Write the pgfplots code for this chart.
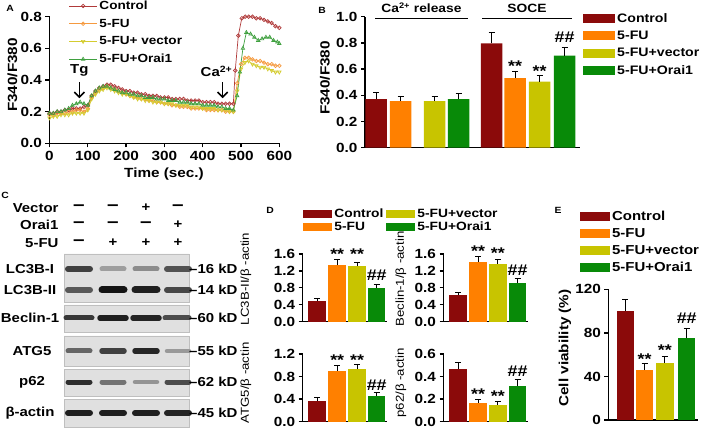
\documentclass[border=0pt]{standalone}
\usepackage{fontspec}
\setmainfont{Liberation Sans}[FakeStretch=1.15]
\usepackage{pgfplots}
\pgfplotsset{compat=1.18}
\usetikzlibrary{arrows.meta}

\definecolor{cCtl}{HTML}{8B0A0A}
\definecolor{cFU}{HTML}{FF8000}
\definecolor{cVec}{HTML}{C8C400}
\definecolor{cOr}{HTML}{088A08}
\definecolor{lCtl}{HTML}{B03A3A}
\definecolor{lFU}{HTML}{F59A40}
\definecolor{lVec}{HTML}{D4CC30}
\definecolor{lOr}{HTML}{3FA03F}

\newcommand{\fs}[1]{\fontsize{#1}{#1}\selectfont}
\newcommand{\mi}{{\fs{18}–}}
\tikzset{sig/.style={font=\fs{15.5}\bfseries, anchor=base, inner sep=0pt}}

\pgfplotsset{
  gp/.style={scale only axis, anchor=south west, axis lines=left,
    axis line style={-, line width=1.3pt},
    every outer x axis line/.append style={-}, every outer y axis line/.append style={-},
    every inner x axis line/.append style={-}, every inner y axis line/.append style={-},
    tick style={black, line width=1.3pt}, tick align=outside, major tick length=4pt,
    ticklabel style={font=\fs{13.3}\bfseries},
    /pgf/number format/assume math mode=true, clip=false, enlargelimits=false, xtick=\empty},
  dec1/.style={yticklabel style={/pgf/number format/fixed, /pgf/number format/fixed zerofill, /pgf/number format/precision=1}},
  bars/.style={ybar, bar width=#1, bar shift=0pt, draw=none,
    error bars/y dir=plus, error bars/y explicit,
    error bars/error bar style={draw=black, solid, line width=1pt},
    error bars/error mark options={rotate=90, draw=black, line width=1pt, mark size=3pt}},
  rectleg/.style 2 args={legend image code/.code={\fill[##1] (0pt,-#2) rectangle (#1,#2);}},
}

\begin{document}
\begin{tikzpicture}
\useasboundingbox (0pt,0pt) rectangle (709pt,431pt);

% ---------------- Panel A ----------------
\begin{axis}[gp, dec1, at={(49.5pt,287.7pt)}, width=229.8pt, height=126.6pt,
  xmin=0, xmax=600, ymin=0, ymax=0.8,
  xtick={0,100,...,600}, ytick={0,0.2,0.4,0.6,0.8},
  legend image code/.code={\draw[mark repeat=2, mark phase=2, #1] plot coordinates {(0pt,0pt) (14pt,0pt) (28pt,0pt)};},
  legend style={at={(0.083,1.142)}, anchor=north west, draw=none, fill=none,
    font=\fs{11.8}\bfseries, inner sep=0pt, row sep=4pt,
    nodes={font=\fs{11.8}\bfseries, inner sep=2pt}},
  legend cell align=left]
\addplot[lCtl, line width=0.7pt, mark=o, mark size=1.8pt] coordinates {
(0,0.19)(10,0.19)(20,0.20)(30,0.20)(40,0.21)(50,0.21)(60,0.22)(70,0.22)(80,0.22)(90,0.23)(100,0.24)(110,0.30)(120,0.33)(130,0.35)(140,0.36)(150,0.37)(160,0.37)(170,0.36)(180,0.35)(190,0.34)(200,0.33)(210,0.33)(220,0.32)(230,0.32)(240,0.31)(250,0.31)(260,0.30)(270,0.30)(280,0.30)(290,0.29)(300,0.29)(310,0.29)(320,0.28)(330,0.28)(340,0.28)(350,0.28)(360,0.27)(370,0.27)(380,0.27)(390,0.27)(400,0.26)(410,0.26)(420,0.26)(430,0.26)(440,0.25)(450,0.25)(460,0.25)(470,0.25)(480,0.25)(485,0.46)(493,0.68)(502,0.79)(511,0.80)(520,0.80)(530,0.80)(540,0.79)(550,0.79)(560,0.78)(570,0.77)(580,0.76)(590,0.74)(600,0.73)};
\addplot[lFU, line width=0.7pt, mark=o, mark size=1.8pt] coordinates {
(0,0.18)(10,0.18)(20,0.19)(30,0.19)(40,0.19)(50,0.20)(60,0.20)(70,0.21)(80,0.21)(90,0.20)(100,0.22)(110,0.29)(120,0.32)(130,0.34)(140,0.35)(150,0.36)(160,0.35)(170,0.34)(180,0.33)(190,0.32)(200,0.31)(210,0.30)(220,0.29)(230,0.29)(240,0.28)(250,0.28)(260,0.27)(270,0.27)(280,0.26)(290,0.26)(300,0.25)(310,0.25)(320,0.24)(330,0.24)(340,0.23)(350,0.23)(360,0.23)(370,0.22)(380,0.22)(390,0.22)(400,0.22)(410,0.21)(420,0.21)(430,0.21)(440,0.21)(450,0.21)(460,0.20)(470,0.20)(480,0.20)(490,0.38)(500,0.50)(510,0.54)(520,0.54)(530,0.53)(540,0.52)(550,0.52)(560,0.51)(570,0.50)(580,0.50)(590,0.49)(600,0.49)};
\addplot[lVec, line width=0.7pt, mark=triangle, mark size=2pt, mark options={rotate=180}] coordinates {
(0,0.16)(10,0.17)(20,0.17)(30,0.18)(40,0.18)(50,0.18)(60,0.19)(70,0.19)(80,0.19)(90,0.19)(100,0.21)(110,0.28)(120,0.31)(130,0.33)(140,0.34)(150,0.35)(160,0.34)(170,0.33)(180,0.32)(190,0.31)(200,0.31)(210,0.30)(220,0.29)(230,0.28)(240,0.28)(250,0.27)(260,0.27)(270,0.26)(280,0.26)(290,0.26)(300,0.25)(310,0.25)(320,0.25)(330,0.24)(340,0.24)(350,0.24)(360,0.24)(370,0.23)(380,0.23)(390,0.23)(400,0.22)(410,0.22)(420,0.22)(430,0.22)(440,0.21)(450,0.21)(460,0.21)(470,0.20)(480,0.20)(490,0.33)(500,0.47)(510,0.51)(520,0.52)(530,0.50)(540,0.49)(550,0.48)(560,0.48)(570,0.47)(580,0.46)(590,0.45)(600,0.45)};
\addplot[lOr, line width=0.7pt, mark=triangle, mark size=2pt] coordinates {
(0,0.19)(10,0.19)(20,0.20)(30,0.20)(40,0.21)(50,0.22)(60,0.24)(70,0.25)(80,0.26)(90,0.25)(100,0.24)(110,0.30)(120,0.33)(130,0.35)(140,0.36)(150,0.36)(160,0.35)(170,0.34)(180,0.33)(190,0.32)(200,0.32)(210,0.31)(220,0.31)(230,0.30)(240,0.30)(250,0.29)(260,0.29)(270,0.29)(280,0.28)(290,0.28)(300,0.28)(310,0.27)(320,0.27)(330,0.27)(340,0.26)(350,0.26)(360,0.26)(370,0.25)(380,0.25)(390,0.25)(400,0.24)(410,0.24)(420,0.24)(430,0.24)(440,0.23)(450,0.23)(460,0.22)(470,0.22)(480,0.21)(490,0.30)(497,0.45)(505,0.60)(514,0.70)(525,0.69)(535,0.67)(545,0.65)(555,0.66)(565,0.67)(575,0.67)(585,0.65)(595,0.64)(600,0.63)};
\legend{Control,5-FU,5-FU+ vector,5-FU+Orai1}
\draw[-{Straight Barb[length=5pt,width=10pt]}, line width=1.6pt] (axis cs:78,0.385) -- (axis cs:78,0.285);
\node[font=\fs{13}\bfseries] at (axis cs:78,0.463) {Tg};
\draw[-{Straight Barb[length=5pt,width=10pt]}, line width=1.6pt] (axis cs:452,0.385) -- (axis cs:452,0.285);
\node[font=\fs{13}\bfseries] at (axis cs:436,0.455) {Ca\textsuperscript{2+}};
\end{axis}

% ---------------- Panel B ----------------
\begin{axis}[gp, dec1, at={(365pt,283.3pt)}, width=215pt, height=131pt,
  xmin=365, xmax=580, ymin=0, ymax=1, ytick={0,0.2,0.4,0.6,0.8,1.0},
  rectleg={32pt}{4.5pt},
  legend style={at={(1.014,1.042)}, anchor=north west, draw=none, fill=none,
    font=\fs{12.3}\bfseries, inner sep=0pt, row sep=3.2pt},
  legend cell align=left]
\addplot[bars=21.5, fill=cCtl] coordinates {(376,0.37) +- (0,0.05) (491.5,0.797) +- (0,0.083)};
\addplot[bars=21.5, fill=cFU] coordinates {(400.5,0.356) +- (0,0.034) (515,0.532) +- (0,0.048)};
\addplot[bars=21.5, fill=cVec] coordinates {(434.5,0.356) +- (0,0.034) (539.5,0.504) +- (0,0.049)};
\addplot[bars=21.5, fill=cOr] coordinates {(458.5,0.37) +- (0,0.045) (564.5,0.702) +- (0,0.064)};
\legend{Control,5-FU,5-FU+vector,5-FU+Orai1}
\draw[line width=1.3pt] (axis cs:375,0.985) -- (axis cs:468,0.985);
\draw[line width=1.3pt] (axis cs:482,0.985) -- (axis cs:572,0.985);
\node[font=\fs{12}\bfseries, anchor=base] at (axis cs:421.5,1.033) {Ca\textsuperscript{2+} release};
\node[font=\fs{12}\bfseries, anchor=base] at (axis cs:527,1.033) {SOCE};
\node[sig] at (axis cs:515,0.585) {**};
\node[sig] at (axis cs:539.5,0.547) {**};
\node[sig] at (axis cs:564.5,0.80) {\#\#};
\end{axis}

% ---------------- Panel C (western blot) ----------------
\begin{axis}[at={(0pt,0pt)}, anchor=south west, scale only axis, width=240pt, height=240pt,
  xmin=0, xmax=240, ymin=0, ymax=240, hide axis, clip=false]
\addplot[fill=black!12, draw=black!25, line width=0.4pt] coordinates {(64,177)(189,177)(189,129)(64,129)(64,177)};
\addplot[fill=black!12, draw=black!25, line width=0.4pt] coordinates {(64,126)(189,126)(189,99)(64,99)(64,126)};
\addplot[fill=black!12, draw=black!25, line width=0.4pt] coordinates {(64,95)(189,95)(189,65)(64,65)(64,95)};
\addplot[fill=black!12, draw=black!25, line width=0.4pt] coordinates {(64,62)(189,62)(189,35)(64,35)(64,62)};
\addplot[fill=black!12, draw=black!25, line width=0.4pt] coordinates {(64,32)(189,32)(189,4)(64,4)(64,32)};
% LC3B-I
\addplot[black!75, line width=6pt, line cap=round] coordinates {(68,162)(90,162)};
\addplot[black!38, line width=5pt, line cap=round] coordinates {(102,162)(124,162)};
\addplot[black!45, line width=5pt, line cap=round] coordinates {(135,162)(157,162)};
\addplot[black!68, line width=6pt, line cap=round] coordinates {(167,162)(189,162)};
% LC3B-II
\addplot[black!65, line width=6pt, line cap=round] coordinates {(68,141)(90,141)};
\addplot[black!92, line width=7pt, line cap=round] coordinates {(102,141)(124,141)};
\addplot[black!88, line width=7pt, line cap=round] coordinates {(135,141)(157,141)};
\addplot[black!72, line width=6pt, line cap=round] coordinates {(167,141)(189,141)};
% Beclin-1
\addplot[black!78, line width=5pt, line cap=round] coordinates {(66,113)(92,113)};
\addplot[black!88, line width=5.5pt, line cap=round] coordinates {(100,113)(126,113)};
\addplot[black!86, line width=5.5pt, line cap=round] coordinates {(133,113)(159,113)};
\addplot[black!70, line width=5pt, line cap=round] coordinates {(165,113)(189,113)};
% ATG5
\addplot[black!60, line width=5pt, line cap=round] coordinates {(68,80)(90,80)};
\addplot[black!75, line width=5.5pt, line cap=round] coordinates {(102,80)(124,80)};
\addplot[black!85, line width=5.5pt, line cap=round] coordinates {(135,80)(157,80)};
\addplot[black!40, line width=4.5pt, line cap=round] coordinates {(167,80)(189,80)};
% p62
\addplot[black!82, line width=5pt, line cap=round] coordinates {(68,49)(90,49)};
\addplot[black!55, line width=5pt, line cap=round] coordinates {(102,49)(124,49)};
\addplot[black!42, line width=4.5pt, line cap=round] coordinates {(135,49)(157,49)};
\addplot[black!70, line width=5pt, line cap=round] coordinates {(167,49)(189,49)};
% beta-actin
\addplot[black!88, line width=6pt, line cap=round] coordinates {(68,18)(90,18)};
\addplot[black!88, line width=6pt, line cap=round] coordinates {(102,18)(124,18)};
\addplot[black!88, line width=6pt, line cap=round] coordinates {(135,18)(157,18)};
\addplot[black!86, line width=6pt, line cap=round] coordinates {(167,18)(189,18)};
\end{axis}

% ---------------- Panel D ----------------
\begin{axis}[gp, dec1, at={(302.7pt,109.3pt)}, width=84pt, height=67.7pt,
  xmin=302.7, xmax=386.7, ymin=0, ymax=1.6, ytick={0,0.4,0.8,1.2,1.6},
  rectleg={29pt}{4pt}, legend columns=2, transpose legend,
  legend style={at={(0,1.69)}, anchor=north west, draw=none, fill=none,
    font=\fs{12}\bfseries, inner sep=0pt, row sep=0pt, column sep=1pt, nodes={inner sep=1.5pt}},
  legend cell align=left]
\addplot[bars=17.5, fill=cCtl] coordinates {(317.2,0.486) +- (0,0.064)};
\addplot[bars=17.5, fill=cFU] coordinates {(337.2,1.333) +- (0,0.137)};
\addplot[bars=17.5, fill=cVec] coordinates {(357,1.31) +- (0,0.10)};
\addplot[bars=17.5, fill=cOr] coordinates {(376.7,0.80) +- (0,0.086)};
\legend{Control,5-FU,5-FU+vector,5-FU+Orai1}
\node[sig] at (axis cs:337.2,1.46) {**};
\node[sig] at (axis cs:357,1.46) {**};
\node[sig] at (axis cs:376.7,0.976) {\#\#};
\end{axis}

\begin{axis}[gp, dec1, at={(443.5pt,109.3pt)}, width=84pt, height=67.7pt,
  xmin=443.5, xmax=527.5, ymin=0, ymax=1.6, ytick={0,0.4,0.8,1.2,1.6}]
\addplot[bars=17.5, fill=cCtl] coordinates {(458,0.62) +- (0,0.08)};
\addplot[bars=17.5, fill=cFU] coordinates {(478,1.41) +- (0,0.12)};
\addplot[bars=17.5, fill=cVec] coordinates {(497.8,1.37) +- (0,0.10)};
\addplot[bars=17.5, fill=cOr] coordinates {(517.5,0.91) +- (0,0.10)};
\node[sig] at (axis cs:478,1.53) {**};
\node[sig] at (axis cs:497.8,1.49) {**};
\node[sig] at (axis cs:517.5,1.09) {\#\#};
\end{axis}

\begin{axis}[gp, dec1, at={(302.7pt,9.3pt)}, width=84pt, height=67.7pt,
  xmin=302.7, xmax=386.7, ymin=0, ymax=1.2, ytick={0,0.4,0.8,1.2}]
\addplot[bars=17.5, fill=cCtl] coordinates {(317.2,0.367) +- (0,0.059)};
\addplot[bars=17.5, fill=cFU] coordinates {(337.2,0.905) +- (0,0.10)};
\addplot[bars=17.5, fill=cVec] coordinates {(357,0.929) +- (0,0.09)};
\addplot[bars=17.5, fill=cOr] coordinates {(376.7,0.456) +- (0,0.06)};
\node[sig] at (axis cs:337.2,1.0) {**};
\node[sig] at (axis cs:357,1.0) {**};
\node[sig] at (axis cs:376.7,0.555) {\#\#};
\end{axis}

\begin{axis}[gp, dec1, at={(443.5pt,9.3pt)}, width=84pt, height=67.7pt,
  xmin=443.5, xmax=527.5, ymin=0, ymax=0.6, ytick={0,0.2,0.4,0.6}]
\addplot[bars=17.5, fill=cCtl] coordinates {(458,0.465) +- (0,0.06)};
\addplot[bars=17.5, fill=cFU] coordinates {(478,0.17) +- (0,0.03)};
\addplot[bars=17.5, fill=cVec] coordinates {(497.8,0.15) +- (0,0.025)};
\addplot[bars=17.5, fill=cOr] coordinates {(517.5,0.32) +- (0,0.05)};
\node[sig] at (axis cs:478,0.20) {**};
\node[sig] at (axis cs:497.8,0.178) {**};
\node[sig] at (axis cs:517.5,0.405) {\#\#};
\end{axis}

% ---------------- Panel E ----------------
\begin{axis}[gp, at={(608.3pt,11pt)}, width=89.7pt, height=130.7pt,
  xmin=608.3, xmax=698, ymin=0, ymax=120, ytick={0,40,80,120},
  rectleg={30pt}{4.5pt},
  legend style={at={(-0.316,1.613)}, anchor=north west, draw=none, fill=none,
    font=\fs{13}\bfseries, inner sep=0pt, row sep=2.4pt},
  legend cell align=left]
\addplot[bars=17.5, fill=cCtl] coordinates {(625.3,100.4) +- (0,9.8)};
\addplot[bars=17.5, fill=cFU] coordinates {(644.5,45.9) +- (0,6.1)};
\addplot[bars=17.5, fill=cVec] coordinates {(664.8,52.6) +- (0,5.6)};
\addplot[bars=17.5, fill=cOr] coordinates {(686.7,75) +- (0,9)};
\legend{Control,5-FU,5-FU+vector,5-FU+Orai1}
\node[sig] at (axis cs:644.5,51.1) {**};
\node[sig] at (axis cs:664.8,58.8) {**};
\node[sig] at (axis cs:686.7,88.4) {\#\#};
\end{axis}

% ---------------- Free text ----------------
\node[font=\fs{9}\bfseries] at (10pt,423pt) {A};
\node[font=\fs{9}\bfseries] at (322pt,421pt) {B};
\node[font=\fs{9}\bfseries] at (5pt,236pt) {C};
\node[font=\fs{9}\bfseries] at (270pt,221pt) {D};
\node[font=\fs{9}\bfseries] at (558pt,221pt) {E};
\node[rotate=90, font=\fs{13.3}\bfseries] at (12.5pt,356pt) {F340/F380};
\node[font=\fs{13.3}\bfseries] at (164pt,257pt) {Time (sec.)};
\node[rotate=90, font=\fs{13.3}\bfseries] at (325pt,353pt) {F340/F380};
\node[rotate=90, font=\fs{11.5}] at (246pt,152pt) {LC3B-II/β -actin};
\node[rotate=90, font=\fs{11.5}] at (401pt,152pt) {Beclin-1/β -actin};
\node[rotate=90, font=\fs{11.5}] at (246pt,48pt) {ATG5/β -actin};
\node[rotate=90, font=\fs{11.5}] at (401pt,48pt) {p62/β -actin};
\node[rotate=90, font=\fs{13.3}\bfseries] at (565pt,83pt) {Cell viability (\%)};
% blot header
\begin{scope}[font=\fs{13}\bfseries]
\node[anchor=east] at (62pt,223pt) {Vector};
\node[anchor=east] at (62pt,206pt) {Orai1};
\node[anchor=east] at (62pt,188pt) {5-FU};
\node at (79pt,223pt) {\mi}; \node at (113pt,223pt) {\mi}; \node at (146pt,223pt) {+}; \node at (178pt,223pt) {\mi};
\node at (79pt,206pt) {\mi}; \node at (113pt,206pt) {\mi}; \node at (146pt,206pt) {\mi}; \node at (178pt,206pt) {+};
\node at (79pt,188pt) {\mi}; \node at (113pt,188pt) {+}; \node at (146pt,188pt) {+}; \node at (178pt,188pt) {+};
\node at (30pt,162pt) {LC3B-I};
\node at (30pt,141pt) {LC3B-II};
\node at (30pt,113pt) {Beclin-1};
\node at (32pt,80pt) {ATG5};
\node at (32pt,49pt) {p62};
\node at (30pt,18pt) {β-actin};
\node[anchor=west, inner sep=0pt] at (189pt,162pt) {–16 kD};
\node[anchor=west, inner sep=0pt] at (189pt,141pt) {–14 kD};
\node[anchor=west, inner sep=0pt] at (189pt,113pt) {–60 kD};
\node[anchor=west, inner sep=0pt] at (189pt,80pt) {–55 kD};
\node[anchor=west, inner sep=0pt] at (189pt,49pt) {–62 kD};
\node[anchor=west, inner sep=0pt] at (189pt,18pt) {–45 kD};
\end{scope}
\end{tikzpicture}
\end{document}
